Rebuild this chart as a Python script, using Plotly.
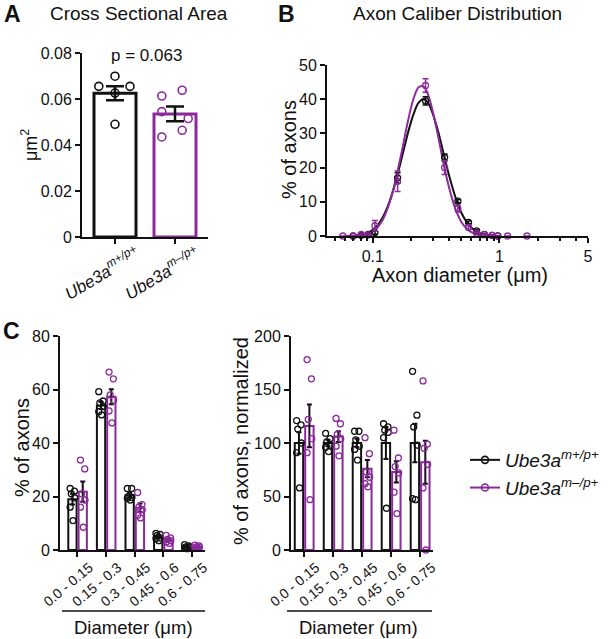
import plotly.graph_objects as go

W, H = 610, 639
def px(x): return x / W
def py(y): return 1 - y / H

PURPLE = "#8B2A9B"
BLACK = "#111111"
FONT = "Liberation Sans, Arial, sans-serif"

# ---------------- Panel A: cross sectional area ----------------
a_labels = ["<i>Ube3a</i><sup><i>m+/p+</i></sup>", "<i>Ube3a</i><sup><i>m\u2013/p+</i></sup>"]
a_mean = [0.0625, 0.0535]
a_sem = [0.0030, 0.0032]
a_wt_pts = [0.0655, 0.0699, 0.0655, 0.0626, 0.0490]
a_mut_pts = [0.0613, 0.0638, 0.0545, 0.0515, 0.0435, 0.0464]
a_wt_jit = [-0.27, 0.0, 0.25, 0.0, 0.0]
a_mut_jit = [-0.22, 0.12, -0.22, 0.22, -0.22, 0.12]

# ---------------- Panel B: axon caliber distribution ----------------
b_wt_x = [0.07, 0.081, 0.092, 0.104, 0.157, 0.261, 0.369, 0.47, 0.57, 0.66, 0.76, 0.875, 0.97]
b_wt_y = [0, 0.2, 0.5, 1.0, 17, 39.5, 23, 10.2, 4, 1.5, 0.5, 0.2, 0]
b_wt_e = [0, 0.2, 0.3, 0.5, 1.5, 1.2, 1.0, 0.5, 0.4, 0.3, 0.2, 0.1, 0]
b_mut_x = [0.058, 0.07, 0.081, 0.092, 0.104, 0.157, 0.261, 0.369, 0.47, 0.57, 0.66, 0.76, 0.875, 0.97, 1.16, 1.65]
b_mut_y = [0, 0, 0.5, 0.3, 3, 16, 44, 20, 8, 2.5, 0.8, 0.4, 0.2, 0, 0, 0]
b_mut_e = [0, 0, 0.3, 0.3, 1.5, 3, 2, 2, 1, 0.5, 0.3, 0.2, 0.1, 0, 0, 0]
fit_x = [0.06, 0.07, 0.08, 0.09, 0.10, 0.11, 0.12, 0.13, 0.14, 0.15, 0.17, 0.19, 0.21, 0.23,
         0.25, 0.27, 0.29, 0.32, 0.35, 0.38, 0.42, 0.46, 0.50, 0.55, 0.60, 0.70, 0.80, 1.0]
fit_wt = [0.02, 0.1, 0.33, 0.85, 1.8, 3.3, 5.5, 8.3, 11.6, 15.3, 23.1, 30.3, 35.7, 39.0,
          40.0, 39.2, 36.9, 32.0, 26.4, 20.9, 14.9, 10.2, 6.8, 4.1, 2.4, 0.8, 0.28, 0.03]
fit_mut = [0.0, 0.04, 0.18, 0.54, 1.3, 2.7, 4.8, 7.8, 11.4, 15.7, 25.0, 33.8, 40.2, 43.5,
           43.8, 41.8, 38.1, 31.1, 23.9, 17.6, 11.3, 6.9, 4.1, 2.2, 1.1, 0.28, 0.07, 0.0]

# ---------------- Panel C: binned distributions ----------------
c_bins = ["0.0 - 0.15", "0.15 - 0.3", "0.3 - 0.45", "0.45 - 0.6", "0.6 - 0.75"]
c_wt_mean = [19.0, 54.0, 20.5, 5.0, 1.2]
c_wt_sem = [2.0, 1.3, 0.8, 0.6, 0.3]
c_mut_mean = [21.8, 57.3, 15.8, 3.8, 1.2]
c_mut_sem = [3.8, 2.8, 1.6, 0.5, 0.3]
c_wt_pts = [[23, 22, 21, 19.5, 16, 11], [59.2, 55.7, 55, 53.6, 51.7, 50.5],
            [23, 23, 20, 19.7, 19.3, 18.7], [6.2, 5.8, 5.5, 4.5, 4.3, 3.5],
            [2, 1.5, 1.2, 1, 0.8, 0.5]]
c_mut_pts = [[33.6, 30.3, 21, 18.7, 16, 8.5], [66.5, 64, 58, 56, 52, 47.5],
             [21.5, 17, 16, 15, 13, 12], [5.5, 4.5, 4, 3.5, 3, 2.5],
             [1.8, 1.5, 1.2, 1, 0.8, 0.6]]

n_wt_mean = [100, 100, 100, 100, 100]
n_wt_sem = [10, 3, 4, 15, 18]
n_mut_mean = [116, 106, 76, 73, 82]
n_mut_sem = [20, 5, 8, 10, 20]
n_wt_pts = [[121, 117, 113, 100, 91, 58], [109, 104, 101, 98, 96, 92],
            [111, 111, 103, 97, 94, 84], [118, 115, 112, 110, 105, 39],
            [167, 126, 115, 98, 48, 47]]
n_mut_pts = [[178, 160, 122, 104, 91, 47], [123, 118, 108, 104, 97, 88],
             [105, 90, 73, 68, 62, 59], [112, 86, 78, 72, 54, 34],
             [158, 99, 95, 80, 58, 0]]

legend_names = ["<i>Ube3a</i><sup><i>m+/p+</i></sup>", "<i>Ube3a</i><sup><i>m\u2013/p+</i></sup>"]

# styling / positions (not data)
jit6 = [-0.08, 0.07, -0.04, 0.08, -0.08, 0.02]
BW = 0.29
WT_OFF = -0.32
MUT_OFF = 0.04

fig = go.Figure()

# ---- Panel A traces
fig.add_trace(go.Bar(x=[0, 1], y=a_mean, width=[0.7, 0.7],
                     marker=dict(color="rgba(255,255,255,0)", line=dict(color=[BLACK, PURPLE], width=3)),
                     error_y=dict(type="data", array=a_sem, color=BLACK, thickness=2.5, width=9),
                     xaxis="x", yaxis="y", showlegend=False))
fig.add_trace(go.Scatter(x=[0 + j for j in a_wt_jit], y=a_wt_pts, mode="markers",
                         marker=dict(symbol="circle-open", size=8, color=BLACK, line=dict(width=1.6)),
                         xaxis="x", yaxis="y", showlegend=False))
fig.add_trace(go.Scatter(x=[1 + j for j in a_mut_jit], y=a_mut_pts, mode="markers",
                         marker=dict(symbol="circle-open", size=8, color=PURPLE, line=dict(width=1.6)),
                         xaxis="x", yaxis="y", showlegend=False))

# ---- Panel B traces
fig.add_trace(go.Scatter(x=fit_x, y=fit_wt, mode="lines", line=dict(color=BLACK, width=2, shape="spline"),
                         xaxis="x2", yaxis="y2", showlegend=False))
fig.add_trace(go.Scatter(x=fit_x, y=fit_mut, mode="lines", line=dict(color=PURPLE, width=2, shape="spline"),
                         xaxis="x2", yaxis="y2", showlegend=False))
fig.add_trace(go.Scatter(x=b_wt_x, y=b_wt_y, mode="markers",
                         marker=dict(symbol="circle-open", size=6, color=BLACK, line=dict(width=1.3)),
                         error_y=dict(type="data", array=b_wt_e, color=BLACK, thickness=1.5, width=3),
                         cliponaxis=False, xaxis="x2", yaxis="y2", showlegend=False))
fig.add_trace(go.Scatter(x=b_mut_x, y=b_mut_y, mode="markers",
                         marker=dict(symbol="circle-open", size=6, color=PURPLE, line=dict(width=1.3)),
                         error_y=dict(type="data", array=b_mut_e, color=PURPLE, thickness=1.5, width=3),
                         cliponaxis=False, xaxis="x2", yaxis="y2", showlegend=False))

# ---- Panel C traces
def add_group_panel(wt_mean, wt_sem, mut_mean, mut_sem, wt_pts, mut_pts, xa, ya):
    xs = list(range(len(c_bins)))
    fig.add_trace(go.Bar(x=xs, y=wt_mean, offset=WT_OFF, width=BW,
                         marker=dict(color="rgba(255,255,255,0)", line=dict(color=BLACK, width=2)),
                         error_y=dict(type="data", array=wt_sem, color=BLACK, thickness=2, width=2.5),
                         xaxis=xa, yaxis=ya, showlegend=False))
    fig.add_trace(go.Bar(x=xs, y=mut_mean, offset=MUT_OFF, width=BW,
                         marker=dict(color="rgba(255,255,255,0)", line=dict(color=PURPLE, width=2)),
                         error_y=dict(type="data", array=mut_sem, color="#1a0a1c", thickness=2, width=2.5),
                         xaxis=xa, yaxis=ya, showlegend=False))
    for pts, off, col in ((wt_pts, WT_OFF, BLACK), (mut_pts, MUT_OFF, PURPLE)):
        xx, yy = [], []
        for i, grp in enumerate(pts):
            for k, v in enumerate(grp):
                xx.append(i + off + BW / 2 + jit6[k % len(jit6)])
                yy.append(v)
        fig.add_trace(go.Scatter(x=xx, y=yy, mode="markers", cliponaxis=False,
                                 marker=dict(symbol="circle-open", size=6, color=col, line=dict(width=1.3)),
                                 xaxis=xa, yaxis=ya, showlegend=False))

add_group_panel(c_wt_mean, c_wt_sem, c_mut_mean, c_mut_sem, c_wt_pts, c_mut_pts, "x3", "y3")
add_group_panel(n_wt_mean, n_wt_sem, n_mut_mean, n_mut_sem, n_wt_pts, n_mut_pts, "x4", "y4")

# ---- legend entries
for i, (name, col) in enumerate(zip(legend_names, [BLACK, PURPLE])):
    fig.add_trace(go.Scatter(x=[None], y=[None], mode="lines+markers", name=name,
                             line=dict(color=col, width=2),
                             marker=dict(symbol="circle-open", size=7, color=col, line=dict(width=1.6)),
                             xaxis="x3", yaxis="y3", showlegend=True))

axis_common = dict(showline=True, linecolor=BLACK, linewidth=2, ticks="outside", ticklen=5,
                   tickwidth=2, tickcolor=BLACK, showgrid=False, zeroline=False, automargin=False,
                   tickfont=dict(family=FONT, size=16, color=BLACK))

fig.update_layout(
    width=W, height=H, margin=dict(l=0, r=0, t=0, b=0, pad=0, autoexpand=False),
    paper_bgcolor="white", plot_bgcolor="white",
    barmode="overlay",
    font=dict(family=FONT, color=BLACK),
    xaxis=dict(axis_common, domain=[px(82), px(208)], range=[-0.55, 1.55],
               tickvals=[0, 1], ticktext=a_labels, tickangle=-31,
               ticklabelshift=22, ticklabelstandoff=-6,
               tickfont=dict(family=FONT, size=17, color=BLACK), anchor="y"),
    yaxis=dict(axis_common, domain=[py(237), py(53)], range=[0, 0.08],
               tickvals=[0, 0.02, 0.04, 0.06, 0.08], ticktext=["0", "0.02", "0.04", "0.06", "0.08"],
               anchor="x"),
    xaxis2=dict(axis_common, type="log", domain=[px(327), px(588)], range=[-1.3615, 0.699],
                tickvals=[0.1, 1, 5], ticktext=["0.1", "1", "5"],
                minor=dict(tickvals=[0.05, 0.06, 0.07, 0.08, 0.09, 0.2, 0.3, 0.4, 0.5, 0.6, 0.7,
                                     0.8, 0.9, 2, 3, 4], ticks="outside", ticklen=3, tickwidth=1.5,
                           tickcolor=BLACK),
                anchor="y2"),
    yaxis2=dict(axis_common, domain=[py(236), py(65)], range=[0, 50],
                tickvals=[0, 10, 20, 30, 40, 50], anchor="x2"),
    xaxis3=dict(axis_common, domain=[px(60), px(205)], range=[-0.61, 4.46],
                tickvals=[0, 1, 2, 3, 4], ticktext=c_bins, tickangle=-40,
                ticklabelshift=12, ticklabelstandoff=-3,
                tickfont=dict(family=FONT, size=14, color=BLACK), anchor="y3"),
    yaxis3=dict(axis_common, domain=[py(550), py(336)], range=[0, 80],
                tickvals=[0, 20, 40, 60, 80], anchor="x3"),
    xaxis4=dict(axis_common, domain=[px(291), px(433)], range=[-0.45, 4.45],
                tickvals=[0, 1, 2, 3, 4], ticktext=c_bins, tickangle=-40,
                ticklabelshift=12, ticklabelstandoff=-3,
                tickfont=dict(family=FONT, size=14, color=BLACK), anchor="y4"),
    yaxis4=dict(axis_common, domain=[py(550), py(336)], range=[0, 200],
                tickvals=[0, 50, 100, 150, 200], anchor="x4"),
    legend=dict(x=px(465), y=py(441), xanchor="left", yanchor="top",
                font=dict(family=FONT, size=19, color=BLACK),
                bgcolor="rgba(0,0,0,0)", itemwidth=30, tracegroupgap=0),
)

def ann(text, x, y, size, bold=False, angle=0, xanchor="center"):
    fig.add_annotation(text=f"<b>{text}</b>" if bold else text, x=px(x), y=py(y),
                       xref="paper", yref="paper", showarrow=False, textangle=angle,
                       xanchor=xanchor, yanchor="middle",
                       font=dict(family=FONT, size=size, color=BLACK))

ann("A", 12, 14, 23, bold=True)
ann("B", 286, 14, 23, bold=True)
ann("C", 11, 331, 23, bold=True)
ann("Cross Sectional Area", 139, 14, 19)
ann("Axon Caliber Distribution", 457, 14, 19)
ann("p = 0.063", 146, 55, 17)
ann("\u03bcm<sup>2</sup>", 30, 145, 18, angle=-90)
ann("% of axons", 289, 150, 20, angle=-90)
ann("Axon diameter (\u03bcm)", 460, 275, 20)
ann("% of axons", 22, 448, 20, angle=-90)
ann("% of axons, normalized", 241, 441, 20, angle=-90)
ann("Diameter (\u03bcm)", 133, 627, 18.5)
ann("Diameter (\u03bcm)", 358, 627, 18.5)

for x0, x1 in ((62, 205), (287, 432)):
    fig.add_shape(type="line", xref="paper", yref="paper", x0=px(x0), x1=px(x1),
                  y0=py(611), y1=py(611), line=dict(color=BLACK, width=1.5))

# remove the default 8px page margin so the 610x639 figure fills the window exactly
fig.write_html("out.html", config={"displayModeBar": False},
               post_script="document.body.style.margin='0px';")
